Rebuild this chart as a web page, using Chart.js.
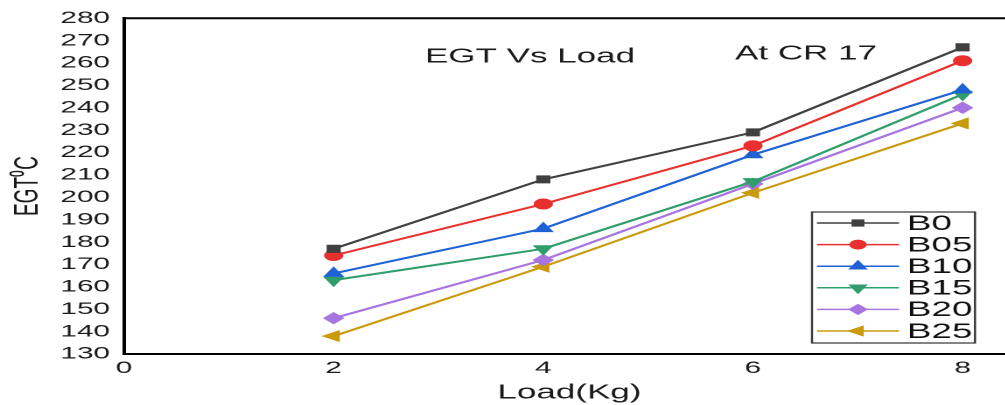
<!DOCTYPE html>
<html>
<head>
<meta charset="utf-8">
<script src="https://cdn.jsdelivr.net/npm/chart.js@4.4.1/dist/chart.umd.min.js"></script>
<style>
  html, body { margin: 0; padding: 0; background: #fff; overflow: hidden; }
  /* the source figure is stretched horizontally, so the chart is drawn narrow and widened */
  #wrap { width: 588px; height: 405px; transform: scaleX(1.75); transform-origin: 0 0; }
</style>
</head>
<body>
<div id="wrap"><canvas id="egtChart"></canvas></div>
<script>
const SX = 1.75; // horizontal stretch of the figure

// Load (Kg) on the x axis
const loads = [2, 4, 6, 8];
const xTicks = [0, 2, 4, 6, 8];

// EGT readings (deg C) per blend
const b0  = [177, 208, 229, 267];
const b05 = [174, 197, 223, 261];
const b10 = [166, 186, 219, 248];
const b15 = [163, 177, 207, 246];
const b20 = [146, 172, 206, 240];
const b25 = [138, 169, 202, 233];

const seriesNames = ['B0', 'B05', 'B10', 'B15', 'B20', 'B25'];
const seriesData = [b0, b05, b10, b15, b20, b25];
const seriesColors = ['#404040', '#e8312f', '#1f62d4', '#2f9e6b', '#a774e0', '#c99a0c'];
const seriesMarkers = [
  { style: 'rect', rot: 0, r: 5 },
  { style: 'circle', rot: 0, r: 5 },
  { style: 'triangle', rot: 0, r: 6 },
  { style: 'triangle', rot: 180, r: 6 },
  { style: 'rectRot', rot: 0, r: 5.5 },
  { style: 'triangle', rot: -90, r: 6 }
];

const FONT = '"Liberation Sans", Arial, sans-serif';

const datasets = seriesNames.map((name, i) => ({
  label: name,
  data: loads.map((x, j) => ({ x: x, y: seriesData[i][j] })),
  borderColor: seriesColors[i],
  backgroundColor: seriesColors[i],
  borderWidth: 2,
  pointStyle: seriesMarkers[i].style,
  rotation: seriesMarkers[i].rot,
  pointRadius: seriesMarkers[i].r,
  pointBorderWidth: 1,
  tension: 0
}));

// Frame top border + text annotations + boxed legend inside the plot
const decorPlugin = {
  id: 'decor',
  afterDraw(chart) {
    const { ctx, chartArea } = chart;
    ctx.save();
    // top border of the frame
    ctx.strokeStyle = '#000';
    ctx.lineWidth = 2;
    ctx.beginPath();
    ctx.moveTo(chartArea.left, chartArea.top);
    ctx.lineTo(chartArea.right, chartArea.top);
    ctx.lineTo(chartArea.right, chartArea.bottom);
    ctx.stroke();

    // annotations (screen x / SX)
    ctx.fillStyle = '#1a1a1a';
    ctx.font = '20px ' + FONT;
    ctx.textBaseline = 'middle';
    ctx.textAlign = 'center';
    ctx.fillText('EGT Vs Load', 530 / SX, 57);
    ctx.fillText('At CR 17', 806 / SX, 54);

    // legend
    const lx = 812 / SX, ly = 212, lw = 163 / SX, lh = 131;
    ctx.lineWidth = 1.2;
    ctx.strokeStyle = '#333';
    ctx.fillStyle = '#fff';
    ctx.fillRect(lx, ly, lw, lh);
    ctx.strokeRect(lx, ly, lw, lh);
    const rowH = 21.6;
    chart.data.datasets.forEach((ds, i) => {
      const cy = ly + 11 + i * rowH;
      ctx.strokeStyle = ds.borderColor;
      ctx.lineWidth = 1.5;
      ctx.beginPath();
      ctx.moveTo(lx + 5 / SX, cy);
      ctx.lineTo(lx + 87 / SX, cy);
      ctx.stroke();
      ctx.fillStyle = ds.backgroundColor;
      ctx.strokeStyle = ds.borderColor;
      ctx.lineWidth = 1;
      Chart.helpers.drawPoint(ctx, {
        pointStyle: ds.pointStyle,
        rotation: ds.rotation,
        radius: ds.pointRadius - 0.5,
        borderWidth: 1
      }, lx + 46 / SX, cy);
      ctx.fillStyle = '#111';
      ctx.font = '21px ' + FONT;
      ctx.textAlign = 'left';
      ctx.fillText(ds.label, lx + 95 / SX, cy + 1);
    });
    ctx.restore();
  }
};

new Chart(document.getElementById('egtChart'), {
  type: 'line',
  data: { datasets: datasets },
  options: {
    responsive: true,
    maintainAspectRatio: false,
    animation: false,
    devicePixelRatio: 2,
    layout: { padding: { top: 15, right: 8, bottom: 0, left: 0 } },
    plugins: { legend: { display: false }, tooltip: { enabled: false } },
    scales: {
      x: {
        type: 'linear',
        min: 0,
        max: 8.5,
        afterBuildTicks: (scale) => { scale.ticks = xTicks.map(v => ({ value: v })); },
        afterFit: (scale) => { scale.height = 51; },
        grid: { display: false, drawTicks: false },
        border: { display: true, color: '#000', width: 2 },
        ticks: { color: '#1a1a1a', padding: 4, font: { size: 17, family: FONT } },
        title: {
          display: true,
          text: 'Load(Kg)',
          color: '#1a1a1a',
          padding: { top: 2, bottom: 0 },
          font: { size: 20, family: FONT }
        }
      },
      y: {
        min: 130,
        max: 280,
        afterFit: (scale) => { scale.width = 124 / SX; },
        grid: { display: false, drawTicks: false },
        border: { display: true, color: '#000', width: 2 },
        ticks: { stepSize: 10, autoSkip: false, color: '#1a1a1a', padding: 8, font: { size: 17, family: FONT } },
        title: {
          display: true,
          text: 'EGT\u2070C',
          color: '#1a1a1a',
          padding: { top: 5, bottom: 2 },
          font: { size: 19, family: FONT }
        }
      }
    }
  },
  plugins: [decorPlugin]
});
</script>
</body>
</html>
